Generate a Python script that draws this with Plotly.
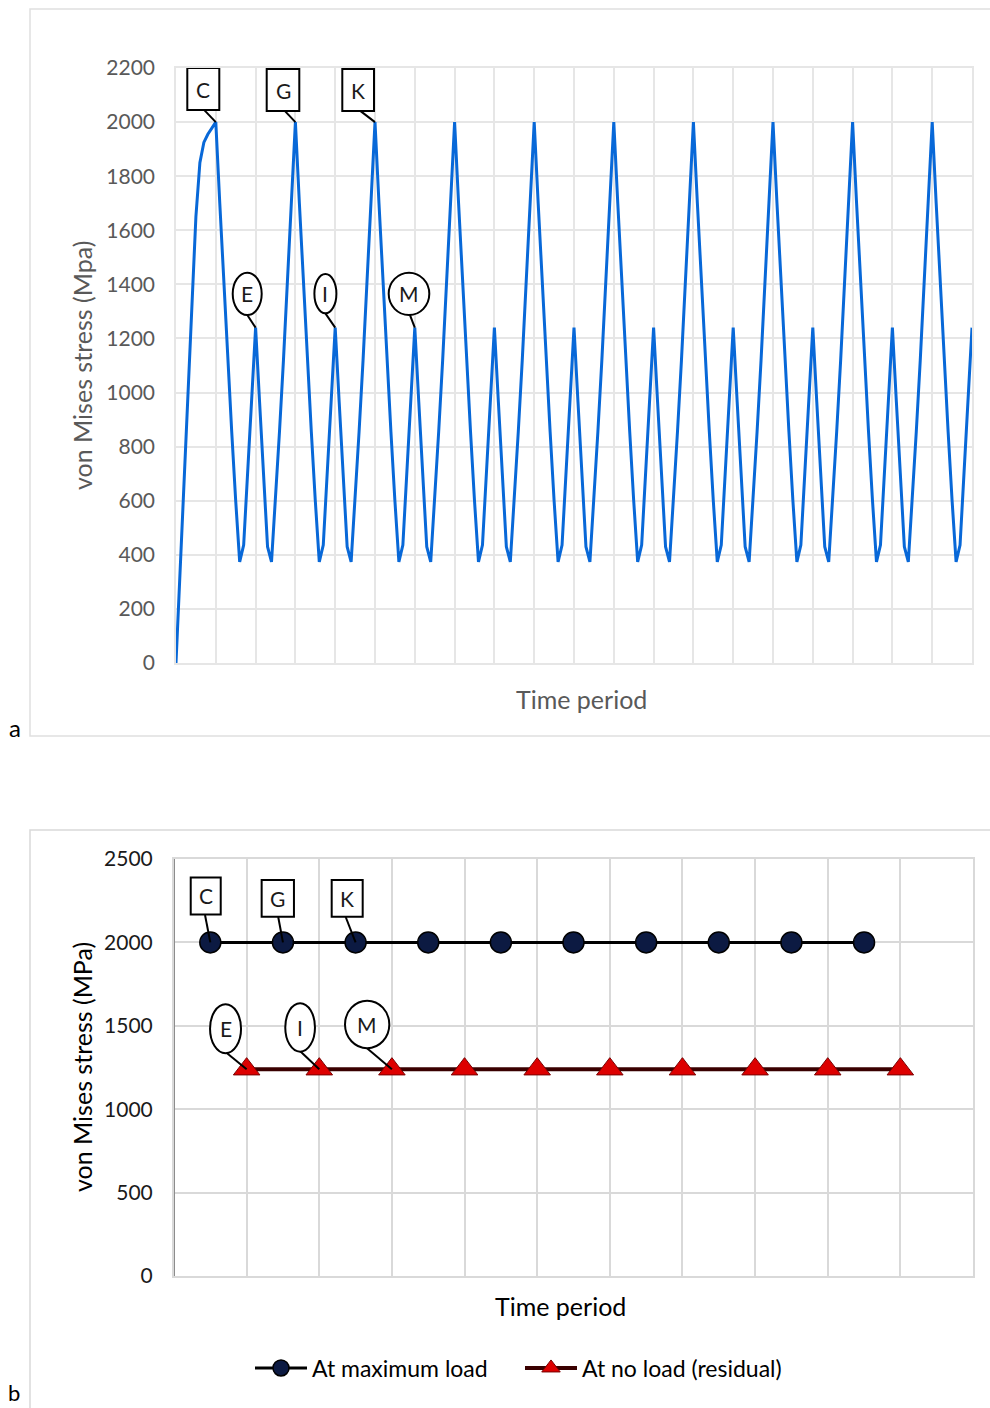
import plotly.graph_objects as go

W, H = 990, 1408

# ---------------- data: chart (a) – von Mises stress history ----------------
stress_a = [
    0, 336, 672, 1008, 1344, 1650, 1850, 1925, 1955, 1980,
    2000, 1700, 1400, 1120, 855, 600, 374, 436, 705, 972, 1240, 965, 690, 430, 374, 600, 855, 1120, 1400, 1700,
    2000, 1700, 1400, 1120, 855, 600, 374, 436, 705, 972, 1240, 965, 690, 430, 374, 600, 855, 1120, 1400, 1700,
    2000, 1700, 1400, 1120, 855, 600, 374, 436, 705, 972, 1240, 965, 690, 430, 374, 600, 855, 1120, 1400, 1700,
    2000, 1700, 1400, 1120, 855, 600, 374, 436, 705, 972, 1240, 965, 690, 430, 374, 600, 855, 1120, 1400, 1700,
    2000, 1700, 1400, 1120, 855, 600, 374, 436, 705, 972, 1240, 965, 690, 430, 374, 600, 855, 1120, 1400, 1700,
    2000, 1700, 1400, 1120, 855, 600, 374, 436, 705, 972, 1240, 965, 690, 430, 374, 600, 855, 1120, 1400, 1700,
    2000, 1700, 1400, 1120, 855, 600, 374, 436, 705, 972, 1240, 965, 690, 430, 374, 600, 855, 1120, 1400, 1700,
    2000, 1700, 1400, 1120, 855, 600, 374, 436, 705, 972, 1240, 965, 690, 430, 374, 600, 855, 1120, 1400, 1700,
    2000, 1700, 1400, 1120, 855, 600, 374, 436, 705, 972, 1240, 965, 690, 430, 374, 600, 855, 1120, 1400, 1700,
    2000, 1700, 1400, 1120, 855, 600, 374, 436, 705, 972, 1240,
]
yticks_a = [0, 200, 400, 600, 800, 1000, 1200, 1400, 1600, 1800, 2000, 2200]

# labelled points of chart (a): (label, time-step index)
max_labels_a = ["C", "G", "K"]
max_steps_a = [10, 30, 50]
res_labels_a = ["E", "I", "M"]
res_steps_a = [20, 40, 60]

# ---------------- data: chart (b) – peak values per cycle ----------------
time_max_b = [0.5, 1.5, 2.5, 3.5, 4.5, 5.5, 6.5, 7.5, 8.5, 9.5]
stress_max_b = [2000, 2000, 2000, 2000, 2000, 2000, 2000, 2000, 2000, 2000]
time_res_b = [1, 2, 3, 4, 5, 6, 7, 8, 9, 10]
stress_res_b = [1240, 1240, 1240, 1240, 1240, 1240, 1240, 1240, 1240, 1240]
yticks_b = [0, 500, 1000, 1500, 2000, 2500]

max_labels_b = ["C", "G", "K"]
res_labels_b = ["E", "I", "M"]

FONT = "Lato"
GRAY_TXT = "#595959"


def px_x(p):
    return p / W


def px_y(p):
    return 1 - p / H


fig = go.Figure()

fig.add_trace(go.Scatter(
    y=stress_a, mode="lines", line=dict(color="#0868d8", width=3),
    xaxis="x", yaxis="y", showlegend=False, hoverinfo="skip"))

fig.add_trace(go.Scatter(
    x=time_max_b, y=stress_max_b, mode="lines+markers", name="At maximum load",
    line=dict(color="black", width=3),
    marker=dict(symbol="circle", size=21, color="#0c1a42", line=dict(color="black", width=1.5)),
    xaxis="x2", yaxis="y2"))

fig.add_trace(go.Scatter(
    x=time_res_b, y=stress_res_b, mode="lines+markers", name="At no load (residual)",
    line=dict(color="#3a0000", width=4),
    marker=dict(symbol="triangle-up", size=23, color="#dd0000", line=dict(color="#7a0000", width=1)),
    xaxis="x2", yaxis="y2"))

shapes = []
annotations = []


def callout(xref, yref, xa, ya, text, kind, bx0, bx1, by0, by1, lx, ly):
    # leader line (pixel offsets relative to the data point; y positive = up)
    shapes.append(dict(type="line", xref=xref, yref=yref, xsizemode="pixel", ysizemode="pixel",
                       xanchor=xa, yanchor=ya, x0=lx, y0=ly, x1=0, y1=0,
                       line=dict(color="black", width=2), layer="above"))
    shapes.append(dict(type=kind, xref=xref, yref=yref, xsizemode="pixel", ysizemode="pixel",
                       xanchor=xa, yanchor=ya, x0=bx0, x1=bx1, y0=by0, y1=by1,
                       line=dict(color="black", width=2), fillcolor="white", layer="above"))
    annotations.append(dict(x=xa, y=ya, xref=xref, yref=yref, text=text, showarrow=False,
                            xanchor="center", yanchor="middle",
                            xshift=(bx0 + bx1) / 2, yshift=(by0 + by1) / 2,
                            font=dict(family=FONT, size=21, color="#1a1a1a")))


# chart (a) call-outs
box_geom_a = [(-28.5, 3.5, 54, 12, -11.5, 12), (-28.7, 3.9, 53, 11, -10.4, 11), (-32.7, -1, 53, 11, -15.7, 12)]
for lab, st, g in zip(max_labels_a, max_steps_a, box_geom_a):
    callout("x", "y", st, stress_a[st], lab, "rect", *g)
ell_geom_a = [(-22.9, 6.1, 55, 12.6, -8.3, 12.6), (-20.8, 1.2, 53.6, 14.3, -9.8, 14.3), (-26.1, 14.5, 55, 12.6, -4.8, 12.6)]
for lab, st, g in zip(res_labels_a, res_steps_a, ell_geom_a):
    callout("x", "y", st, stress_a[st], lab, "circle", *g)

# chart (b) call-outs
box_geom_b = [(-19.6, 10.4, 65, 28, -5.3, 27.4), (-21.3, 11, 62.4, 25.7, -4.7, 25.4), (-23.9, 7.1, 62.4, 25.7, -9.9, 25.4)]
for lab, i, g in zip(max_labels_b, range(3), box_geom_b):
    callout("x2", "y2", time_max_b[i], stress_max_b[i], lab, "rect", *g)
ell_geom_b = [(-36.6, -5.6, 65, 16, -19.9, 16.2), (-34, -4.3, 66, 17.5, -19.3, 18.2), (-46.9, -2.6, 68.5, 21, -25.2, 21.2)]
for lab, i, g in zip(res_labels_b, range(3), ell_geom_b):
    callout("x2", "y2", time_res_b[i], stress_res_b[i], lab, "circle", *g)

# chart-area borders
shapes.append(dict(type="rect", xref="paper", yref="paper", x0=px_x(30), x1=px_x(1000),
                   y0=px_y(736), y1=px_y(9), line=dict(color="#e0e0e0", width=1.5), layer="below"))
shapes.append(dict(type="rect", xref="paper", yref="paper", x0=px_x(30), x1=px_x(1000),
                   y0=px_y(1420), y1=px_y(830), line=dict(color="#d9d9d9", width=1.5), layer="below"))
# dark left axis line of chart (b)
shapes.append(dict(type="line", xref="x2", yref="y2", x0=0, x1=0, y0=0, y1=2500,
                   line=dict(color="#8c8c8c", width=2), layer="above"))


def paper_text(x, y, text, size, color, angle=0):
    return dict(x=px_x(x), y=px_y(y), xref="paper", yref="paper", text=text, textangle=angle,
                xanchor="center", yanchor="middle", showarrow=False,
                font=dict(family=FONT, size=size, color=color))


# axis titles and panel letters
annotations += [
    paper_text(82, 366, "von Mises stress (Mpa)", 25, GRAY_TXT, -90),
    paper_text(581, 699, "Time period", 25, GRAY_TXT),
    paper_text(82, 1067, "von Mises stress (MPa)", 25, "black", -90),
    paper_text(560, 1306, "Time period", 25, "black"),
    paper_text(15, 727, "a", 24, "black"),
    paper_text(14, 1392, "b", 22, "black"),
]

grid_a = "#e6e6e6"
grid_b = "#d9d9d9"

fig.update_layout(
    width=W, height=H, autosize=False,
    margin=dict(l=0, r=0, t=0, b=0, autoexpand=False),
    paper_bgcolor="white", plot_bgcolor="white",
    font=dict(family=FONT),
    xaxis=dict(domain=[px_x(176), px_x(972)], range=[0, 200], tick0=0, dtick=10,
               showticklabels=False, ticks="", showgrid=True, gridcolor=grid_a, gridwidth=1.5,
               zeroline=False, showline=True, mirror=True, linecolor=grid_a, linewidth=1.5),
    yaxis=dict(domain=[px_y(663), px_y(68)], range=[0, 2200], tickvals=yticks_a,
               ticks="", ticklabelstandoff=15, tickfont=dict(family=FONT, size=21, color=GRAY_TXT),
               showgrid=True, gridcolor=grid_a, gridwidth=1.5, zeroline=False,
               showline=True, mirror=True, linecolor=grid_a, linewidth=1.5),
    xaxis2=dict(domain=[px_x(174), px_x(973)], range=[0, 11], tick0=0, dtick=1,
                showticklabels=False, ticks="", showgrid=True, gridcolor=grid_b, gridwidth=2,
                zeroline=False, showline=True, mirror=True, linecolor=grid_b, linewidth=2,
                anchor="y2"),
    yaxis2=dict(domain=[px_y(1276), px_y(859)], range=[0, 2500], tickvals=yticks_b,
                ticks="", ticklabelstandoff=15, tickfont=dict(family=FONT, size=21, color="#1a1a1a"),
                showgrid=True, gridcolor=grid_b, gridwidth=2, zeroline=False,
                showline=True, mirror=True, linecolor=grid_b, linewidth=2, anchor="x2"),
    showlegend=True,
    legend=dict(orientation="h", x=px_x(250), xanchor="left", y=px_y(1368), yanchor="middle",
                font=dict(family=FONT, size=23, color="black"), bgcolor="rgba(0,0,0,0)",
                itemwidth=52, entrywidth=203, entrywidthmode="pixels", traceorder="normal"),
    shapes=shapes,
    annotations=annotations,
)

fig.write_html("out.html")
